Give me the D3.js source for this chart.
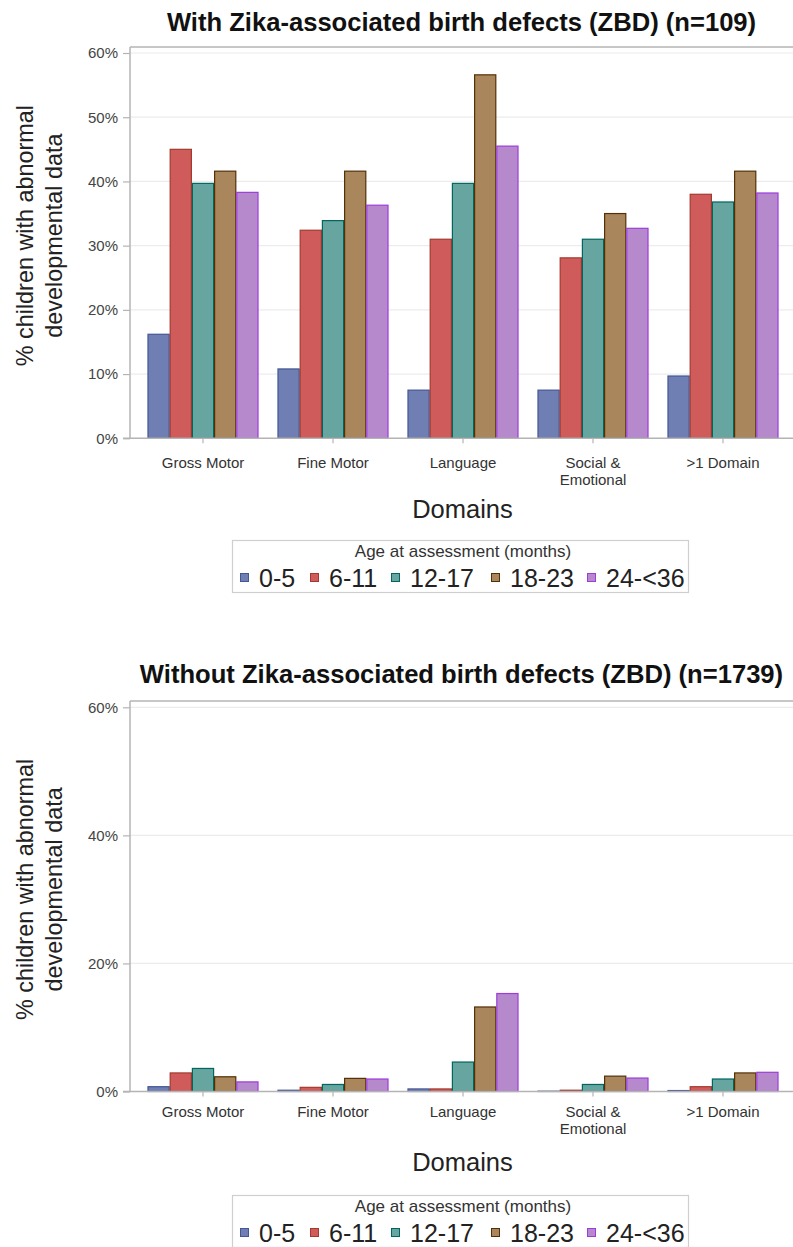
<!DOCTYPE html>
<html>
<head>
<meta charset="utf-8">
<script src="https://cdn.jsdelivr.net/npm/d3@7"></script>
<style>
  html, body { margin: 0; padding: 0; background: #fff; }
  svg { display: block; font-family: "Liberation Sans", Arial, sans-serif; }
</style>
</head>
<body>
<svg id="chart" width="793" height="1247"></svg>
<script>
// Developmental domains (x categories) and age groups (series)
const domains = ["Gross Motor", "Fine Motor", "Language", "Social & Emotional", ">1 Domain"];
const domainLabels = [["Gross Motor"], ["Fine Motor"], ["Language"], ["Social &", "Emotional"], [">1 Domain"]];
const ageGroups = ["0-5", "6-11", "12-17", "18-23", "24-<36"];
const fillColors = ["#6F7EB3", "#D05B5B", "#66A5A0", "#A9865B", "#B689CD"];
const lineColors = ["#445694", "#A23A2E", "#01665E", "#543005", "#9D3CDB"];

// % with abnormal developmental data, one array per age group (order of domains)
const zbd_0_5   = [16.2, 10.8, 7.5, 7.5, 9.7];
const zbd_6_11  = [45.0, 32.4, 31.0, 28.1, 38.0];
const zbd_12_17 = [39.7, 33.9, 39.7, 31.0, 36.8];
const zbd_18_23 = [41.6, 41.6, 56.6, 35.0, 41.6];
const zbd_24_36 = [38.3, 36.3, 45.5, 32.7, 38.2];

const noZbd_0_5   = [0.75, 0.2, 0.4, 0.05, 0.15];
const noZbd_6_11  = [2.9, 0.65, 0.4, 0.2, 0.75];
const noZbd_12_17 = [3.6, 1.1, 4.6, 1.1, 1.95];
const noZbd_18_23 = [2.3, 2.05, 13.2, 2.4, 2.9];
const noZbd_24_36 = [1.5, 1.95, 15.3, 2.1, 3.0];

const ticksTop = [0, 10, 20, 30, 40, 50, 60];
const ticksBottom = [0, 20, 40, 60];

const panels = [
  {
    title: "With Zika-associated birth defects (ZBD) (n=109)",
    series: [zbd_0_5, zbd_6_11, zbd_12_17, zbd_18_23, zbd_24_36],
    ticks: ticksTop,
    titleY: 31, frameTop: 47, yTop: 53, yBottom: 438.3,
    catY: 468, domainsY: 518, legendY: 540
  },
  {
    title: "Without Zika-associated birth defects (ZBD) (n=1739)",
    series: [noZbd_0_5, noZbd_6_11, noZbd_12_17, noZbd_18_23, noZbd_24_36],
    ticks: ticksBottom,
    titleY: 683, frameTop: 701, yTop: 707.3, yBottom: 1091.5,
    catY: 1117, domainsY: 1171, legendY: 1195
  }
];

const svg = d3.select("#chart");
const plotLeft = 130, plotRight = 793;
const axisGray = "#b4b4b4";

const x0 = d3.scaleBand().domain(domains).range([138, 788]).paddingInner(0.146).paddingOuter(0.073);
const x1 = d3.scaleBand().domain(ageGroups).range([0, x0.bandwidth()]);

panels.forEach(p => {
  const g = svg.append("g");
  const y = d3.scaleLinear().domain([0, 60]).range([p.yBottom, p.yTop]);
  const centerX = (plotLeft + plotRight) / 2;

  // title
  g.append("text")
    .attr("x", centerX).attr("y", p.titleY)
    .attr("text-anchor", "middle")
    .attr("font-weight", "bold").attr("font-size", 25.6).attr("fill", "#111")
    .text(p.title);

  // gridlines
  g.append("g").selectAll("line").data(p.ticks.filter(t => t > 0)).join("line")
    .attr("x1", plotLeft).attr("x2", plotRight)
    .attr("y1", d => y(d)).attr("y2", d => y(d))
    .attr("stroke", "#ececec").attr("stroke-width", 1.2);

  // top frame line
  g.append("line")
    .attr("x1", plotLeft).attr("x2", plotRight)
    .attr("y1", p.frameTop).attr("y2", p.frameTop)
    .attr("stroke", axisGray).attr("stroke-width", 1.5);

  // bars
  const groups = g.append("g").selectAll("g").data(domains).join("g")
    .attr("transform", d => `translate(${x0(d)},0)`);
  groups.selectAll("rect")
    .data((d, i) => ageGroups.map((a, k) => ({ age: a, k, v: p.series[k][i] })))
    .join("rect")
    .attr("x", d => x1(d.age) + 0.5)
    .attr("width", x1.bandwidth() - 1)
    .attr("y", d => y(d.v))
    .attr("height", d => y(0) - y(d.v))
    .attr("fill", d => fillColors[d.k])
    .attr("stroke", d => lineColors[d.k])
    .attr("stroke-width", 1.2);

  // y axis
  const yAxis = d3.axisLeft(y).tickValues(p.ticks).tickFormat(d => d + "%").tickSize(7).tickPadding(5);
  const ya = g.append("g").attr("transform", `translate(${plotLeft},0)`).call(yAxis);
  ya.select(".domain").attr("stroke", axisGray).attr("stroke-width", 1.5)
    .attr("d", `M0,${p.frameTop}V${p.yBottom}`);
  ya.selectAll(".tick line").attr("stroke", axisGray).attr("stroke-width", 1.2);
  ya.selectAll(".tick text").attr("font-size", 15).attr("fill", "#444")
    .attr("font-family", "Liberation Sans, Arial, sans-serif");

  // x axis
  const xAxis = d3.axisBottom(x0).tickSize(5).tickFormat("");
  const xa = g.append("g").attr("transform", `translate(0,${p.yBottom})`).call(xAxis);
  xa.select(".domain").attr("stroke", axisGray).attr("stroke-width", 1.5)
    .attr("d", `M${plotLeft - 7},0H${plotRight}`);
  xa.selectAll(".tick line").attr("stroke", axisGray).attr("stroke-width", 1.2);

  // category labels
  const cat = g.append("g").selectAll("text").data(domains).join("text")
    .attr("x", d => x0(d) + x0.bandwidth() / 2)
    .attr("y", p.catY)
    .attr("text-anchor", "middle").attr("font-size", 15).attr("fill", "#333");
  cat.selectAll("tspan").data((d, i) => domainLabels[i]).join("tspan")
    .attr("x", function() { return d3.select(this.parentNode).attr("x"); })
    .attr("dy", (d, i) => i === 0 ? 0 : 17)
    .text(d => d);

  // x axis title
  g.append("text")
    .attr("x", centerX + 1).attr("y", p.domainsY)
    .attr("text-anchor", "middle").attr("font-size", 25.5).attr("fill", "#222")
    .text("Domains");

  // y axis title (two lines)
  const midY = (p.yTop + p.yBottom) / 2 - 10;
  const yt = g.append("text")
    .attr("transform", `translate(33,${midY}) rotate(-90)`)
    .attr("text-anchor", "middle").attr("font-size", 23.4).attr("fill", "#222");
  yt.append("tspan").attr("x", 0).attr("y", 0).text("% children with abnormal");
  yt.append("tspan").attr("x", 0).attr("y", 29).text("developmental data");

  // legend
  const lg = g.append("g").attr("transform", `translate(0,${p.legendY})`);
  lg.append("rect")
    .attr("x", 232.5).attr("y", 0.5).attr("width", 456).attr("height", 52)
    .attr("fill", "#fff").attr("stroke", "#cfcfcf").attr("stroke-width", 1.2);
  lg.append("text")
    .attr("x", 463).attr("y", 17)
    .attr("text-anchor", "middle").attr("font-size", 17).attr("fill", "#333")
    .text("Age at assessment (months)");
  const itemX = [240, 310, 391, 491, 587];
  const items = lg.selectAll("g.item").data(ageGroups).join("g")
    .attr("class", "item")
    .attr("transform", (d, i) => `translate(${itemX[i]},0)`);
  items.append("rect")
    .attr("x", 0.5).attr("y", 33.5).attr("width", 8).attr("height", 8)
    .attr("fill", (d, i) => fillColors[i]).attr("stroke", (d, i) => lineColors[i]).attr("stroke-width", 1);
  items.append("text")
    .attr("x", 19).attr("y", 47)
    .attr("font-size", 25).attr("fill", "#222")
    .text(d => d);
});
</script>
</body>
</html>
